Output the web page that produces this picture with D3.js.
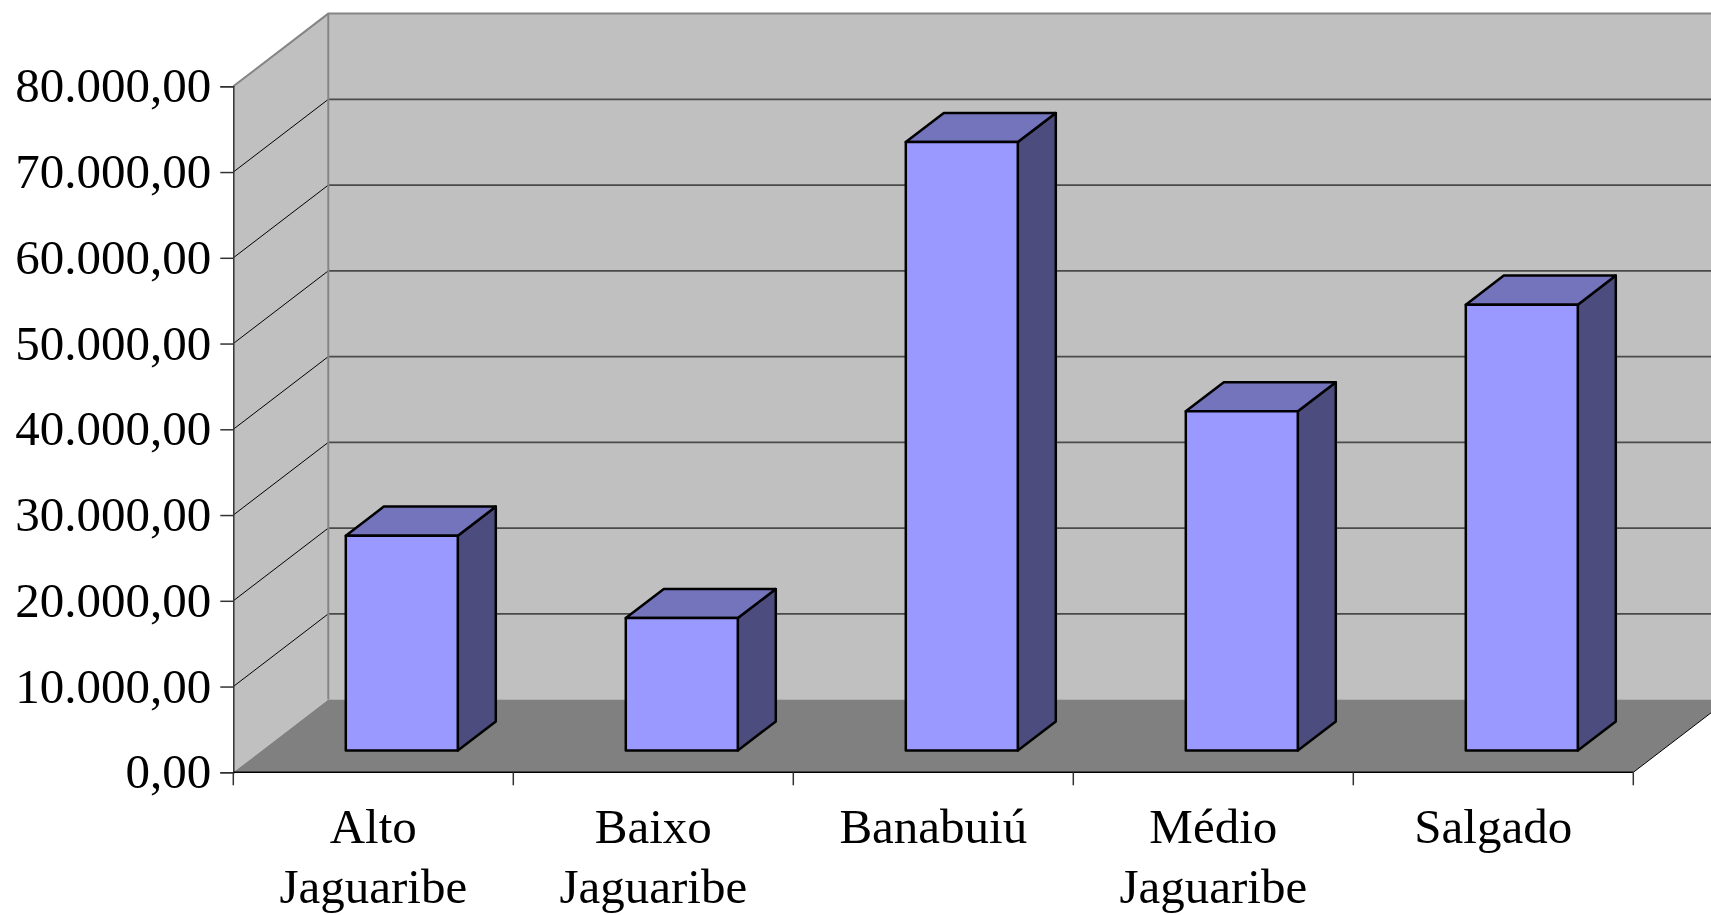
<!DOCTYPE html>
<html>
<head>
<meta charset="utf-8">
<script src="https://cdn.jsdelivr.net/npm/d3@7"></script>
<style>
  html, body { margin: 0; padding: 0; background: #ffffff; }
  svg { display: block; }
  text { font-family: "Liberation Serif", "Times New Roman", serif; fill: #000; }
</style>
</head>
<body>
<svg id="chart" width="1711" height="915"></svg>
<script>
// Bacias hidrográficas and their values
const categories = ["Alto Jaguaribe", "Baixo Jaguaribe", "Banabuiú", "Médio Jaguaribe", "Salgado"];
const labelLines = [["Alto", "Jaguaribe"], ["Baixo", "Jaguaribe"], ["Banabuiú"], ["Médio", "Jaguaribe"], ["Salgado"]];
const values = [25050, 15440, 70950, 39550, 51990];
const yTicks = [0, 10000, 20000, 30000, 40000, 50000, 60000, 70000, 80000];

(function () {
  const plotLeft = 233.3, plotRight = 1633.3, plotBottom = 772.3, plotTop = 86.3;
  // depth offset of the 3D box (back plane relative to front plane)
  const DX = 95, DY = 72.7;
  const barDepth0 = 0.3, barDepth1 = 0.7;

  const svg = d3.select("#chart");

  const x = d3.scaleBand().domain(categories).range([plotLeft, plotRight])
    .paddingInner(0.6).paddingOuter(0.3);
  const xCat = d3.scaleBand().domain(categories).range([plotLeft, plotRight]).padding(0);
  const y = d3.scaleLinear().domain([0, 80000]).range([plotBottom, plotTop]);

  const ptBr = d3.formatLocale({ decimal: ",", thousands: ".", grouping: [3], currency: ["R$", ""] });
  const fmt = ptBr.format(",.2f");

  // project a front-plane point to depth d (0 = front, 1 = back)
  const P = (px, py, d) => [px + d * DX, py - d * DY];
  const poly = pts => "M" + pts.map(p => p.join(",")).join("L") + "Z";

  const yMax = y.domain()[1];

  // back wall
  svg.append("path")
    .attr("d", poly([P(plotLeft, y(yMax), 1), P(plotRight, y(yMax), 1), P(plotRight, y(0), 1), P(plotLeft, y(0), 1)]))
    .attr("fill", "#c0c0c0");
  // side wall
  svg.append("path")
    .attr("d", poly([P(plotLeft, y(yMax), 0), P(plotLeft, y(yMax), 1), P(plotLeft, y(0), 1), P(plotLeft, y(0), 0)]))
    .attr("fill", "#c0c0c0");
  // floor
  svg.append("path")
    .attr("d", poly([P(plotLeft, y(0), 0), P(plotLeft, y(0), 1), P(plotRight, y(0), 1), P(plotRight, y(0), 0)]))
    .attr("fill", "#808080");

  // gridlines on back wall and side wall
  const grid = yTicks.filter(v => v > 0 && v < yMax);
  svg.append("g").selectAll("line").data(grid).join("line")
    .attr("x1", d => P(plotLeft, y(d), 1)[0]).attr("y1", d => P(plotLeft, y(d), 1)[1])
    .attr("x2", d => P(plotRight, y(d), 1)[0]).attr("y2", d => P(plotRight, y(d), 1)[1])
    .attr("stroke", "#4a4a4a").attr("stroke-width", 1.6);
  svg.append("g").selectAll("line").data(grid).join("line")
    .attr("x1", d => P(plotLeft, y(d), 0)[0]).attr("y1", d => P(plotLeft, y(d), 0)[1])
    .attr("x2", d => P(plotLeft, y(d), 1)[0]).attr("y2", d => P(plotLeft, y(d), 1)[1])
    .attr("stroke", "#000").attr("stroke-width", 1);

  // wall outlines
  const edge = "#858585";
  svg.append("path")
    .attr("d", "M" + P(plotLeft, y(yMax), 0).join(",") + "L" + P(plotLeft, y(yMax), 1).join(",") +
               "L" + P(plotRight, y(yMax), 1).join(","))
    .attr("fill", "none").attr("stroke", edge).attr("stroke-width", 2);
  svg.append("line")
    .attr("x1", P(plotLeft, y(yMax), 1)[0]).attr("y1", P(plotLeft, y(yMax), 1)[1])
    .attr("x2", P(plotLeft, y(0), 1)[0]).attr("y2", P(plotLeft, y(0), 1)[1])
    .attr("stroke", edge).attr("stroke-width", 2);
  // floor right edge
  svg.append("line")
    .attr("x1", P(plotRight, y(0), 0)[0]).attr("y1", P(plotRight, y(0), 0)[1])
    .attr("x2", P(plotRight, y(0), 1)[0]).attr("y2", P(plotRight, y(0), 1)[1])
    .attr("stroke", "#000").attr("stroke-width", 1);

  // bars
  const bars = svg.append("g");
  categories.forEach((c, i) => {
    const x0 = x(c), x1 = x(c) + x.bandwidth();
    const yv = y(values[i]), y0 = y(0);
    const g = bars.append("g");
    const outline = s => s.attr("stroke", "#000").attr("stroke-width", 2.5).attr("stroke-linejoin", "round");
    // right side face
    g.append("path").attr("d", poly([P(x1, yv, barDepth0), P(x1, yv, barDepth1), P(x1, y0, barDepth1), P(x1, y0, barDepth0)]))
      .attr("fill", "#4c4c7e").call(outline);
    // top face
    g.append("path").attr("d", poly([P(x0, yv, barDepth0), P(x0, yv, barDepth1), P(x1, yv, barDepth1), P(x1, yv, barDepth0)]))
      .attr("fill", "#7474bc").call(outline);
    // front face
    g.append("path").attr("d", poly([P(x0, yv, barDepth0), P(x1, yv, barDepth0), P(x1, y0, barDepth0), P(x0, y0, barDepth0)]))
      .attr("fill", "#9999ff").call(outline);
  });

  // value axis
  const yAxis = svg.append("g").attr("transform", `translate(${plotLeft},0)`)
    .call(d3.axisLeft(y).tickValues(yTicks).tickFormat(fmt).tickSize(13).tickPadding(9));
  yAxis.select(".domain").attr("stroke", "#333").attr("stroke-width", 1.5);
  yAxis.selectAll(".tick line").attr("stroke", "#333").attr("stroke-width", 1.5);
  yAxis.selectAll(".tick text")
    .style("font-family", '"Liberation Serif", "Times New Roman", serif')
    .style("font-size", "49px").attr("fill", "#000");

  // category axis
  const xAxis = svg.append("g");
  xAxis.append("line").attr("x1", plotLeft).attr("x2", plotRight).attr("y1", plotBottom).attr("y2", plotBottom)
    .attr("stroke", "#000").attr("stroke-width", 1.5);
  const boundaries = categories.map(c => xCat(c)).concat([plotRight]);
  xAxis.selectAll("line.tick").data(boundaries).join("line").attr("class", "tick")
    .attr("x1", d => d).attr("x2", d => d).attr("y1", plotBottom).attr("y2", plotBottom + 13)
    .attr("stroke", "#333").attr("stroke-width", 1.5);
  xAxis.selectAll("text").data(categories).join("text")
    .attr("text-anchor", "middle")
    .style("font-size", "49px")
    .each(function (c, i) {
      const t = d3.select(this);
      labelLines[i].forEach((ln, k) => {
        t.append("tspan").attr("x", xCat(c) + xCat.bandwidth() / 2)
          .attr("y", 843 + k * 59.5).text(ln);
      });
    });
})();
</script>
</body>
</html>
